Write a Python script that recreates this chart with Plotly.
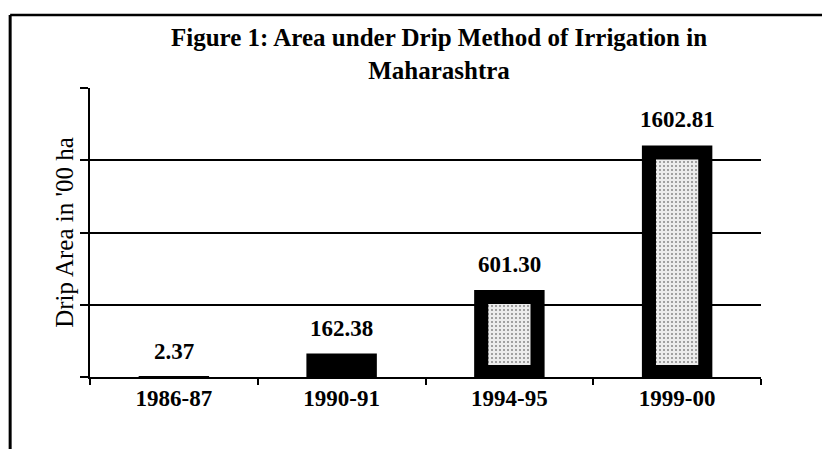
import plotly.graph_objects as go

categories = ["1986-87", "1990-91", "1994-95", "1999-00"]
drip_area = [2.37, 162.38, 601.30, 1602.81]
value_labels = ["2.37", "162.38", "601.30", "1602.81"]
title_lines = ["Figure 1: Area under Drip Method of Irrigation in", "Maharashtra"]
y_title = "Drip Area in '00 ha"
y_tick_values = [0, 500, 1000, 1500, 2000]
y_max = 2000

SERIF = "Liberation Serif, Times New Roman, serif"

# layout (figure is drawn inside the page's 8px body margin)
FIG_W, FIG_H = 822, 441
M_L, M_R, M_T, M_B = 82, 69, 80, 72
plot_h = FIG_H - M_T - M_B
units_per_px = y_max / plot_h

# bar outline drawn as an inset: thick black frame around a speckled fill
BORDER_SIDE_PX, BORDER_TOP_PX, BORDER_BOTTOM_PX = 14, 14, 12
outer_width = 0.42
inner_width = outer_width * (70 - 2 * BORDER_SIDE_PX) / 70
inner_base = BORDER_BOTTOM_PX * units_per_px
inner_heights = [max(v - (BORDER_TOP_PX + BORDER_BOTTOM_PX) * units_per_px, 0) for v in drip_area]

fig = go.Figure()
fig.add_trace(go.Bar(
    x=categories, y=drip_area, width=outer_width,
    marker=dict(color="black", line=dict(width=0)),
    showlegend=False, hoverinfo="x+y",
))
fig.add_trace(go.Bar(
    x=categories, y=inner_heights, base=inner_base, width=inner_width,
    marker=dict(
        color="white", line=dict(width=0),
        pattern=dict(shape=".", fgcolor="#222222", bgcolor="#ececec", size=4, solidity=0.2),
    ),
    showlegend=False, hoverinfo="skip",
))

annotations = []
for c, v, lab in zip(categories, drip_area, value_labels):
    annotations.append(dict(
        x=c, y=v, xref="x", yref="y", text=lab, showarrow=False,
        yanchor="bottom", yshift=11,
        font=dict(family=SERIF, size=23, color="black", weight="bold"),
    ))

annotations.append(dict(
    x=0.520, y=1.118, xref="paper", yref="paper", yanchor="middle",
    text="<b>" + title_lines[0] + "</b><br><b>" + title_lines[1] + "</b>",
    showarrow=False, align="center",
    font=dict(family=SERIF, size=25, color="black"),
))

fig.update_layout(
    width=FIG_W, height=FIG_H,
    margin=dict(l=M_L, r=M_R, t=M_T, b=M_B),
    paper_bgcolor="white", plot_bgcolor="white",
    barmode="overlay",
    annotations=annotations,
    xaxis=dict(
        showline=True, linecolor="black", linewidth=1.5,
        ticks="outside", tickson="boundaries", ticklen=6, tickcolor="black", tickwidth=1.5,
        tickfont=dict(family=SERIF, size=23, color="black", weight="bold"),
        showgrid=False,
    ),
    yaxis=dict(
        range=[0, y_max], tickvals=y_tick_values, showticklabels=False,
        showline=True, linecolor="black", linewidth=1.5,
        ticks="outside", ticklen=8, tickcolor="black", tickwidth=1.5,
        showgrid=True, gridcolor="black", gridwidth=1.5, zeroline=False,
        title=dict(text=y_title, font=dict(family=SERIF, size=25, color="black"), standoff=0),
    ),
    shapes=[
        dict(type="line", xref="paper", yref="paper", x0=-0.119, x1=1.11, y0=1.2526, y1=1.2526,
             line=dict(color="black", width=2.5)),
        dict(type="line", xref="paper", yref="paper", x0=-0.119, x1=-0.119, y0=1.2526, y1=-0.26,
             line=dict(color="black", width=3)),
    ],
)

fig.write_html("out.html")
